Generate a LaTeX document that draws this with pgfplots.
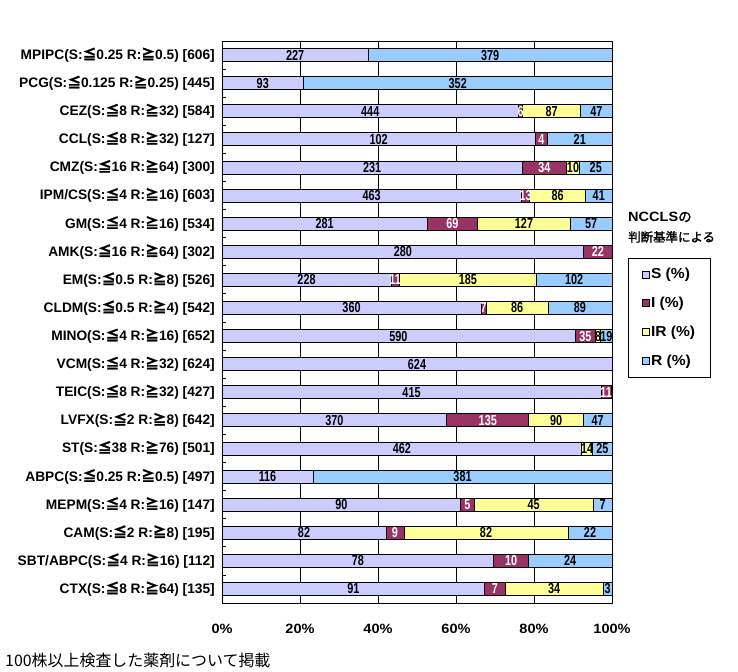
\documentclass[border=0pt]{standalone}
\usepackage{pgfplots}
\pgfplotsset{compat=1.18}
\usepackage{pgfplotstable}
\usepackage{fontspec}
\setmainfont{Liberation Sans}
\newfontfamily\cjk{Noto Sans CJK JP}
\newfontfamily\cjkb{Noto Sans CJK JP}[FakeBold=1.5]
\newfontfamily\narrow{Liberation Sans Bold}[FakeStretch=0.75]
\newfontfamily\wide{Liberation Sans Bold}[FakeStretch=1.08]
\newcommand\leqj{{\cjkb ≦}}
\newcommand\geqj{{\cjkb ≧}}
\definecolor{cS}{RGB}{204,204,255}
\definecolor{cI}{RGB}{153,51,102}
\definecolor{cIR}{RGB}{255,255,153}
\definecolor{cR}{RGB}{153,204,255}

% percentages (count/total*100) and counts
\pgfplotstableread{
y  S      I      IR     R      nS  nI  nIR nR
0  37.459 0      0      62.541 227 0   0   379
1  20.899 0      0      79.101 93  0   0   352
2  76.027 1.027  14.897 8.048  444 6   87  47
3  80.315 3.150  0      16.535 102 4   0   21
4  77.000 11.333 3.333  8.334  231 34  10  25
5  76.783 2.156  14.262 6.799  463 13  86  41
6  52.622 12.921 23.783 10.674 281 69  127 57
7  92.715 7.285  0      0      280 22  0   0
8  43.346 2.091  35.171 19.392 228 11  185 102
9  66.421 1.292  15.867 16.420 360 7   86  89
10 90.491 5.368  1.227  2.914  590 35  8   19
11 100    0      0      0      624 0   0   0
12 97.190 2.576  0      0.234  415 11  0   0
13 57.632 21.028 14.019 7.321  370 135 90  47
14 92.216 0      2.794  4.990  462 0   14  25
15 23.340 0      0      76.660 116 0   0   381
16 61.224 3.401  30.612 4.762  90  5   45  7
17 42.051 4.615  42.051 11.282 82  9   82  22
18 69.643 8.929  0      21.428 78  10  0   24
19 67.407 5.185  25.185 2.222  91  7   34  3
}\data

\begin{document}
\begin{tikzpicture}[x=1bp,y=1bp]
\useasboundingbox (0,0) rectangle (738,672);
\begin{axis}[
  at={(222bp,69bp)}, anchor=south west,
  scale only axis, width=390bp, height=562bp,
  xbar stacked, bar width=13bp,
  xmin=0, xmax=100, ymin=-0.5, ymax=19.5, y dir=reverse,
  clip=false,
  axis line style={line width=0.8bp},
  xtick={0,20,40,60,80,100},
  xticklabels={0\%,20\%,40\%,60\%,80\%,100\%},
  xmajorgrids, major x grid style={black, line width=0.8bp},
  xtick style={draw=none},
  ytick={0,...,19},
  yticklabels={
    {MPIPC(S:\leqj0.25 R:\geqj0.5) [606]},
    {PCG(S:\leqj0.125 R:\geqj0.25) [445]},
    {CEZ(S:\leqj8 R:\geqj32) [584]},
    {CCL(S:\leqj8 R:\geqj32) [127]},
    {CMZ(S:\leqj16 R:\geqj64) [300]},
    {IPM/CS(S:\leqj4 R:\geqj16) [603]},
    {GM(S:\leqj4 R:\geqj16) [534]},
    {AMK(S:\leqj16 R:\geqj64) [302]},
    {EM(S:\leqj0.5 R:\geqj8) [526]},
    {CLDM(S:\leqj0.5 R:\geqj4) [542]},
    {MINO(S:\leqj4 R:\geqj16) [652]},
    {VCM(S:\leqj4 R:\geqj32) [624]},
    {TEIC(S:\leqj8 R:\geqj32) [427]},
    {LVFX(S:\leqj2 R:\geqj8) [642]},
    {ST(S:\leqj38 R:\geqj76) [501]},
    {ABPC(S:\leqj0.25 R:\geqj0.5) [497]},
    {MEPM(S:\leqj4 R:\geqj16) [147]},
    {CAM(S:\leqj2 R:\geqj8) [195]},
    {SBT/ABPC(S:\leqj4 R:\geqj16) [112]},
    {CTX(S:\leqj8 R:\geqj64) [135]}},
  ytick pos=left, tick align=inside,
  minor y tick num=1,
  major y tick style={draw=none},
  minor y tick style={black, line width=0.8bp},
  minor tick length=4bp,
  yticklabel style={font=\bfseries\fontsize{13.8}{14}\selectfont, inner sep=0pt, xshift=-7bp},
  xticklabel style={font=\wide\fontsize{13.5}{14}\selectfont, inner sep=0pt, yshift=-21bp},
  point meta=explicit symbolic,
  nodes near coords={\ifnum\pgfplotspointmeta=0\relax\else\pgfplotspointmeta\fi},
  every node near coord/.append style={font=\narrow\fontsize{14.5}{14.5}\selectfont, inner sep=0pt},
  legend style={at={(1.041,0.614)}, anchor=north west, draw=black, line width=0.8bp,
    font=\wide\fontsize{14.5}{14.5}\selectfont, row sep=15bp,
    inner xsep=14bp, inner ysep=9bp, nodes={inner sep=1bp},
    cells={anchor=west}},
  legend image code/.code={\draw[#1, draw=black, line width=0.6bp] (0bp,-3.5bp) rectangle (7bp,3.5bp);},
]
\addplot[fill=cS, draw=black, line width=0.8bp] table[x=S, y=y, meta=nS]{\data};
\addplot[fill=cI, draw=black, line width=0.8bp, every node near coord/.append style={text=white}] table[x=I, y=y, meta=nI]{\data};
\addplot[fill=cIR, draw=black, line width=0.8bp] table[x=IR, y=y, meta=nIR]{\data};
\addplot[fill=cR, draw=black, line width=0.8bp] table[x=R, y=y, meta=nR]{\data};
\legend{S (\%), I (\%), IR (\%), R (\%)}
\end{axis}
\node[anchor=west, inner sep=0pt, font=\wide\fontsize{13.5}{13.5}\selectfont] at (628,455) {NCCLS{\cjkb の}};
\node[anchor=west, inner sep=0pt, font=\cjkb\fontsize{12.5}{13}\selectfont] at (628,435) {判断基準による};
\node[anchor=west, inner sep=0pt, font=\cjk\fontsize{16}{16}\selectfont] at (5,12) {100株以上検査した薬剤について掲載};
\end{tikzpicture}
\end{document}
